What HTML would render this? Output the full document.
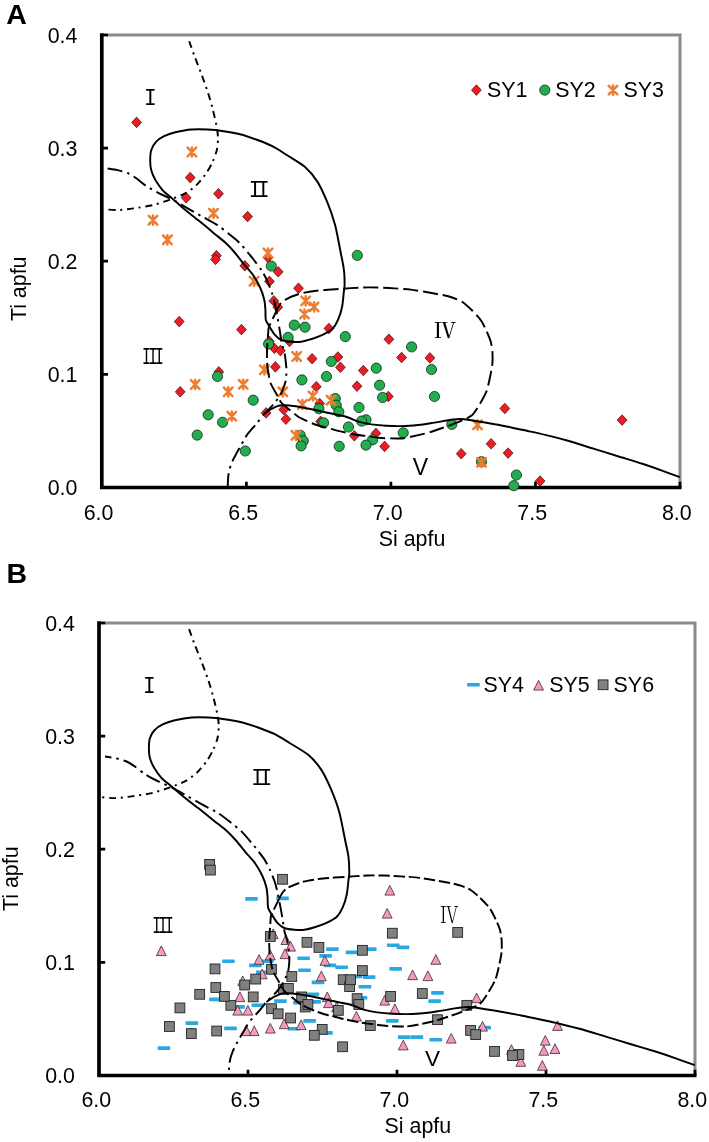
<!DOCTYPE html>
<html><head><meta charset="utf-8"><title>Ti vs Si apfu</title>
<style>html,body{margin:0;padding:0;background:#fff}svg{display:block}text{font-family:"Liberation Sans",sans-serif;fill:#000}.t{font-size:21.4px}.b{font-weight:bold;font-size:28.5px}.m{font-family:"Liberation Mono",monospace}.r{font-family:"Noto Serif CJK SC","Liberation Serif",serif}.c{fill:none;stroke:#000;stroke-width:1.95;stroke-linejoin:round}.rd{fill:#ed1c24;stroke:#3a0a0a;stroke-width:.7}.gr{fill:#22ad4e;stroke:#0c2a14;stroke-width:.8}.or{fill:none;stroke:#ed7d31;stroke-width:2.5;stroke-linecap:round}.gy{fill:#808080;stroke:#222;stroke-width:.9}.pk{fill:#f49ac1;stroke:#3a2a30;stroke-width:.8;stroke-linejoin:miter}.bl{fill:#29a9e0}</style></head><body>
<svg width="709" height="1142" viewBox="0 0 709 1142">
<rect width="709" height="1142" fill="#fff"/>
<path d="M101.8 35.0H680.0V487.5" fill="none" stroke="#8a8a8a" stroke-width="3"/>
<path d="M101.8 33.3V487.5H681.5" fill="none" stroke="#000" stroke-width="3.7" stroke-linejoin="miter"/>
<path d="M101.8 374.4h6.2M246.4 487.5v-5.8M101.8 261.2h6.2M390.9 487.5v-5.8M101.8 148.1h6.2M535.5 487.5v-5.8M101.8 35.0h6.2M680.0 487.5v-5.8" fill="none" stroke="#000" stroke-width="2.7"/>
<g><path class="rd" d="M136.6 117.1l4.9 5.3l-4.9 5.3l-4.9 -5.3z"/><path class="rd" d="M190.2 172.3l4.9 5.3l-4.9 5.3l-4.9 -5.3z"/><path class="rd" d="M186.2 192.5l4.9 5.3l-4.9 5.3l-4.9 -5.3z"/><path class="rd" d="M218.5 188.4l4.9 5.3l-4.9 5.3l-4.9 -5.3z"/><path class="rd" d="M247.6 211.3l4.9 5.3l-4.9 5.3l-4.9 -5.3z"/><path class="rd" d="M216.4 250.4l4.9 5.3l-4.9 5.3l-4.9 -5.3z"/><path class="rd" d="M215.5 254.1l4.9 5.3l-4.9 5.3l-4.9 -5.3z"/><path class="rd" d="M244.8 260.5l4.9 5.3l-4.9 5.3l-4.9 -5.3z"/><path class="rd" d="M268.0 252.1l4.9 5.3l-4.9 5.3l-4.9 -5.3z"/><path class="rd" d="M278.2 266.5l4.9 5.3l-4.9 5.3l-4.9 -5.3z"/><path class="rd" d="M269.4 276.1l4.9 5.3l-4.9 5.3l-4.9 -5.3z"/><path class="rd" d="M298.5 282.9l4.9 5.3l-4.9 5.3l-4.9 -5.3z"/><path class="rd" d="M273.8 295.6l4.9 5.3l-4.9 5.3l-4.9 -5.3z"/><path class="rd" d="M277.8 301.9l4.9 5.3l-4.9 5.3l-4.9 -5.3z"/><path class="rd" d="M241.4 324.3l4.9 5.3l-4.9 5.3l-4.9 -5.3z"/><path class="rd" d="M328.9 323.2l4.9 5.3l-4.9 5.3l-4.9 -5.3z"/><path class="rd" d="M269.3 336.0l4.9 5.3l-4.9 5.3l-4.9 -5.3z"/><path class="rd" d="M274.3 343.0l4.9 5.3l-4.9 5.3l-4.9 -5.3z"/><path class="rd" d="M280.4 345.3l4.9 5.3l-4.9 5.3l-4.9 -5.3z"/><path class="rd" d="M289.6 336.2l4.9 5.3l-4.9 5.3l-4.9 -5.3z"/><path class="rd" d="M312.1 353.4l4.9 5.3l-4.9 5.3l-4.9 -5.3z"/><path class="rd" d="M337.9 351.7l4.9 5.3l-4.9 5.3l-4.9 -5.3z"/><path class="rd" d="M179.2 316.3l4.9 5.3l-4.9 5.3l-4.9 -5.3z"/><path class="rd" d="M180.2 386.5l4.9 5.3l-4.9 5.3l-4.9 -5.3z"/><path class="rd" d="M218.8 366.6l4.9 5.3l-4.9 5.3l-4.9 -5.3z"/><path class="rd" d="M275.4 361.6l4.9 5.3l-4.9 5.3l-4.9 -5.3z"/><path class="rd" d="M340.4 362.0l4.9 5.3l-4.9 5.3l-4.9 -5.3z"/><path class="rd" d="M316.3 381.4l4.9 5.3l-4.9 5.3l-4.9 -5.3z"/><path class="rd" d="M266.1 407.6l4.9 5.3l-4.9 5.3l-4.9 -5.3z"/><path class="rd" d="M283.8 404.3l4.9 5.3l-4.9 5.3l-4.9 -5.3z"/><path class="rd" d="M285.9 413.9l4.9 5.3l-4.9 5.3l-4.9 -5.3z"/><path class="rd" d="M319.7 398.3l4.9 5.3l-4.9 5.3l-4.9 -5.3z"/><path class="rd" d="M320.6 416.1l4.9 5.3l-4.9 5.3l-4.9 -5.3z"/><path class="rd" d="M388.9 333.9l4.9 5.3l-4.9 5.3l-4.9 -5.3z"/><path class="rd" d="M401.6 352.2l4.9 5.3l-4.9 5.3l-4.9 -5.3z"/><path class="rd" d="M429.9 352.6l4.9 5.3l-4.9 5.3l-4.9 -5.3z"/><path class="rd" d="M363.3 365.2l4.9 5.3l-4.9 5.3l-4.9 -5.3z"/><path class="rd" d="M357.0 380.9l4.9 5.3l-4.9 5.3l-4.9 -5.3z"/><path class="rd" d="M388.3 391.2l4.9 5.3l-4.9 5.3l-4.9 -5.3z"/><path class="rd" d="M504.8 403.2l4.9 5.3l-4.9 5.3l-4.9 -5.3z"/><path class="rd" d="M354.3 430.5l4.9 5.3l-4.9 5.3l-4.9 -5.3z"/><path class="rd" d="M375.9 428.1l4.9 5.3l-4.9 5.3l-4.9 -5.3z"/><path class="rd" d="M384.6 441.1l4.9 5.3l-4.9 5.3l-4.9 -5.3z"/><path class="rd" d="M461.2 448.4l4.9 5.3l-4.9 5.3l-4.9 -5.3z"/><path class="rd" d="M491.1 438.5l4.9 5.3l-4.9 5.3l-4.9 -5.3z"/><path class="rd" d="M508.1 447.8l4.9 5.3l-4.9 5.3l-4.9 -5.3z"/><path class="rd" d="M540.1 475.7l4.9 5.3l-4.9 5.3l-4.9 -5.3z"/><path class="rd" d="M622.1 414.8l4.9 5.3l-4.9 5.3l-4.9 -5.3z"/></g>
<g><circle class="gr" cx="357.3" cy="255.4" r="5.1"/><circle class="gr" cx="271.3" cy="266.0" r="5.1"/><circle class="gr" cx="294.3" cy="325.1" r="5.1"/><circle class="gr" cx="305.0" cy="327.2" r="5.1"/><circle class="gr" cx="288.1" cy="337.4" r="5.1"/><circle class="gr" cx="268.6" cy="344.0" r="5.1"/><circle class="gr" cx="345.3" cy="336.6" r="5.1"/><circle class="gr" cx="331.3" cy="361.5" r="5.1"/><circle class="gr" cx="326.5" cy="376.5" r="5.1"/><circle class="gr" cx="301.9" cy="379.9" r="5.1"/><circle class="gr" cx="253.2" cy="400.2" r="5.1"/><circle class="gr" cx="335.3" cy="398.6" r="5.1"/><circle class="gr" cx="318.9" cy="408.7" r="5.1"/><circle class="gr" cx="336.3" cy="405.3" r="5.1"/><circle class="gr" cx="338.8" cy="411.8" r="5.1"/><circle class="gr" cx="323.6" cy="422.8" r="5.1"/><circle class="gr" cx="348.5" cy="427.0" r="5.1"/><circle class="gr" cx="300.2" cy="435.3" r="5.1"/><circle class="gr" cx="303.3" cy="440.9" r="5.1"/><circle class="gr" cx="301.1" cy="445.9" r="5.1"/><circle class="gr" cx="339.2" cy="446.3" r="5.1"/><circle class="gr" cx="245.3" cy="451.0" r="5.1"/><circle class="gr" cx="217.5" cy="376.5" r="5.1"/><circle class="gr" cx="208.2" cy="414.8" r="5.1"/><circle class="gr" cx="222.6" cy="422.3" r="5.1"/><circle class="gr" cx="197.2" cy="435.1" r="5.1"/><circle class="gr" cx="411.6" cy="346.9" r="5.1"/><circle class="gr" cx="376.3" cy="368.2" r="5.1"/><circle class="gr" cx="431.5" cy="369.5" r="5.1"/><circle class="gr" cx="379.6" cy="385.2" r="5.1"/><circle class="gr" cx="382.6" cy="397.5" r="5.1"/><circle class="gr" cx="434.5" cy="396.5" r="5.1"/><circle class="gr" cx="359.0" cy="407.5" r="5.1"/><circle class="gr" cx="366.0" cy="419.8" r="5.1"/><circle class="gr" cx="361.6" cy="421.1" r="5.1"/><circle class="gr" cx="403.2" cy="432.8" r="5.1"/><circle class="gr" cx="372.6" cy="439.8" r="5.1"/><circle class="gr" cx="366.0" cy="445.1" r="5.1"/><circle class="gr" cx="451.8" cy="424.4" r="5.1"/><circle class="gr" cx="516.4" cy="475.0" r="5.1"/><circle class="gr" cx="513.8" cy="485.7" r="5.1"/><circle class="gr" cx="481.5" cy="461.7" r="5.1"/></g>
<g><path class="or" d="M187.6 147.7l8.6 8.6M196.2 147.7l-8.6 8.6M191.9 147.4v9.2"/><path class="or" d="M148.7 215.9l8.6 8.6M157.3 215.9l-8.6 8.6M153.0 215.6v9.2"/><path class="or" d="M163.1 235.5l8.6 8.6M171.7 235.5l-8.6 8.6M167.4 235.2v9.2"/><path class="or" d="M209.2 209.0l8.6 8.6M217.8 209.0l-8.6 8.6M213.5 208.7v9.2"/><path class="or" d="M263.7 248.7l8.6 8.6M272.3 248.7l-8.6 8.6M268.0 248.4v9.2"/><path class="or" d="M249.8 276.9l8.6 8.6M258.4 276.9l-8.6 8.6M254.1 276.6v9.2"/><path class="or" d="M301.4 296.6l8.6 8.6M310.0 296.6l-8.6 8.6M305.7 296.3v9.2"/><path class="or" d="M309.8 302.6l8.6 8.6M318.4 302.6l-8.6 8.6M314.1 302.3v9.2"/><path class="or" d="M300.2 309.8l8.6 8.6M308.8 309.8l-8.6 8.6M304.5 309.5v9.2"/><path class="or" d="M292.4 352.2l8.6 8.6M301.0 352.2l-8.6 8.6M296.7 351.9v9.2"/><path class="or" d="M260.1 365.5l8.6 8.6M268.7 365.5l-8.6 8.6M264.4 365.2v9.2"/><path class="or" d="M238.9 380.0l8.6 8.6M247.5 380.0l-8.6 8.6M243.2 379.7v9.2"/><path class="or" d="M223.9 387.5l8.6 8.6M232.5 387.5l-8.6 8.6M228.2 387.2v9.2"/><path class="or" d="M278.5 387.5l8.6 8.6M287.1 387.5l-8.6 8.6M282.8 387.2v9.2"/><path class="or" d="M308.6 391.7l8.6 8.6M317.2 391.7l-8.6 8.6M312.9 391.4v9.2"/><path class="or" d="M298.1 400.2l8.6 8.6M306.7 400.2l-8.6 8.6M302.4 399.9v9.2"/><path class="or" d="M326.7 395.9l8.6 8.6M335.3 395.9l-8.6 8.6M331.0 395.6v9.2"/><path class="or" d="M227.5 411.9l8.6 8.6M236.1 411.9l-8.6 8.6M231.8 411.6v9.2"/><path class="or" d="M291.7 431.0l8.6 8.6M300.3 431.0l-8.6 8.6M296.0 430.7v9.2"/><path class="or" d="M190.9 380.2l8.6 8.6M199.5 380.2l-8.6 8.6M195.2 379.9v9.2"/><path class="or" d="M473.2 420.5l8.6 8.6M481.8 420.5l-8.6 8.6M477.5 420.2v9.2"/><path class="or" d="M477.2 458.1l8.6 8.6M485.8 458.1l-8.6 8.6M481.5 457.8v9.2"/></g>
<path class="c" stroke-dasharray="7 4.8 2 4.7" d="M189.2 41.2C189.9 43.2 193.3 53.0 194.8 57.0C196.3 61.0 199.6 69.2 201.2 73.6C202.9 78.0 206.3 87.5 207.7 91.9C209.2 96.3 211.5 104.2 212.6 108.6C213.7 113.0 216.1 123.2 216.8 126.9C217.4 130.6 218.0 135.6 218.0 138.5C218.0 141.4 217.4 147.3 216.8 150.2C216.1 153.1 213.9 158.9 212.6 161.8C211.3 164.7 208.1 170.6 206.1 173.5C204.1 176.4 199.0 182.6 196.4 185.1C193.8 187.6 188.4 191.6 185.1 193.4C181.9 195.2 174.6 197.9 170.6 199.4C166.5 200.9 157.5 204.0 152.8 205.1C148.2 206.2 137.9 207.8 133.4 208.4C129.0 209.0 121.0 210.0 117.3 210.1C113.6 210.2 105.4 209.3 103.7 209.2"/>
<path class="c" stroke-dasharray="15 5 2.5 5" d="M107.6 168.5C108.8 168.7 114.7 169.5 117.3 170.1C119.9 170.7 126.2 172.4 128.6 173.5C131.0 174.6 134.4 176.9 136.6 178.5C138.8 180.1 143.5 184.2 146.3 186.1C149.2 188.0 156.0 191.7 159.2 193.4C162.5 195.1 169.0 197.7 172.2 199.4C175.5 201.1 181.5 204.7 185.1 206.8C188.8 208.9 197.2 213.8 201.2 216.1C205.3 218.4 213.8 222.7 217.4 225.1C221.1 227.5 227.5 232.8 230.3 235.1C233.2 237.4 237.6 240.9 240.0 243.4C242.5 245.9 248.2 252.9 249.9 255.0C251.7 257.1 252.8 258.6 254.3 260.5C255.8 262.4 260.1 268.0 261.8 270.6C263.4 273.2 266.2 278.6 267.5 281.6C268.8 284.6 271.5 291.2 272.4 294.3C273.4 297.4 274.7 303.1 275.4 306.2C276.0 309.3 277.2 315.8 277.8 318.9C278.3 322.0 279.3 327.6 279.8 330.7C280.3 333.8 281.2 340.5 281.8 343.4C282.4 346.3 284.1 350.8 284.7 353.8C285.2 356.8 286.1 364.8 286.3 367.4C286.5 370.0 286.4 373.2 286.3 375.0C286.2 376.8 286.1 379.6 285.5 381.8C284.9 384.0 282.9 390.0 281.5 392.8C280.0 395.5 276.1 401.3 274.0 403.8C271.9 406.3 267.0 410.8 265.0 413.1C262.9 415.4 259.5 420.1 257.6 422.4C255.7 424.7 251.0 429.8 249.5 431.7C247.9 433.6 246.2 436.1 245.3 437.6C244.3 439.1 243.1 441.6 242.0 443.6C240.9 445.6 237.3 451.8 236.3 453.7C235.2 455.6 234.1 457.8 233.4 459.1C232.8 460.4 231.8 462.6 231.3 464.0C230.8 465.4 229.8 468.4 229.4 470.0C229.0 471.6 228.4 475.0 228.2 477.0C228.0 479.0 227.8 484.9 227.7 486.0"/>
<path class="c" d="M150.2 160.2C150.2 157.7 150.5 152.5 151.2 150.2C151.9 147.9 154.4 143.5 156.0 141.8C157.6 140.0 161.7 137.4 164.1 136.2C166.5 135.0 172.0 133.0 175.4 132.2C178.9 131.4 187.5 129.8 191.5 129.5C195.6 129.2 203.7 129.3 207.7 129.5C211.8 129.7 219.8 130.6 223.8 131.2C227.9 131.8 236.0 133.2 240.0 134.2C244.1 135.2 252.1 138.0 256.1 139.5C260.2 141.0 268.5 144.3 272.3 146.2C276.2 148.1 282.7 152.4 286.7 155.0C290.7 157.6 300.6 163.3 304.5 166.6C308.3 169.9 314.5 177.2 317.4 181.6C320.2 186.0 324.8 196.2 327.1 201.6C329.3 207.0 333.4 218.6 335.1 224.9C336.8 231.2 339.5 246.5 340.6 252.0C341.6 257.5 343.3 264.8 343.8 268.9C344.4 273.0 344.6 281.9 344.6 284.8C344.6 287.7 344.2 289.3 343.8 292.0C343.5 294.7 342.9 302.7 342.2 306.2C341.5 309.7 339.4 316.9 338.1 319.7C336.9 322.6 334.3 327.1 332.3 329.0C330.4 330.9 325.2 333.6 322.5 334.9C319.8 336.2 313.6 338.4 311.0 339.2C308.3 340.1 303.6 341.4 301.2 341.7C298.7 342.0 293.7 341.9 291.3 341.7C288.8 341.5 283.5 340.9 281.5 340.0C279.4 339.1 276.3 336.5 274.9 334.9C273.4 333.3 271.1 329.2 269.9 327.3C268.8 325.4 266.4 321.9 265.8 319.7C265.3 317.5 265.6 312.0 265.4 309.5C265.2 307.0 264.9 302.1 264.2 299.4C263.5 296.6 261.5 290.5 260.1 287.5C258.8 284.5 255.6 278.7 253.5 275.7C251.5 272.7 246.0 266.7 243.6 263.8C241.3 260.9 237.0 255.2 234.7 252.5C232.4 249.8 227.6 244.7 225.0 242.3C222.4 239.9 217.5 236.2 214.1 233.4C210.8 230.6 201.9 223.2 198.0 220.1C194.2 217.0 186.7 211.1 183.5 208.4C180.3 205.7 174.9 200.7 172.2 198.4C169.6 196.1 164.6 192.4 162.5 190.1C160.4 187.8 156.9 182.6 155.4 180.1C154.0 177.6 151.8 172.6 151.2 170.1C150.5 167.6 150.2 162.7 150.2 160.2Z"/>
<path class="c" stroke-dasharray="15 5" stroke-dashoffset="6" d="M276.5 310.8C277.0 309.9 279.2 305.4 280.3 304.0C281.4 302.6 282.6 301.1 285.1 299.8C287.5 298.5 295.4 295.0 299.6 293.8C303.9 292.6 313.8 291.1 319.0 290.5C324.3 289.9 336.3 289.2 341.6 288.8C347.0 288.4 357.1 287.7 361.7 287.5C366.3 287.3 374.1 287.4 378.2 287.5C382.3 287.6 390.5 288.1 394.6 288.4C398.7 288.7 406.9 289.1 411.0 289.6C415.1 290.1 423.5 291.6 427.4 292.3C431.3 293.0 439.2 294.4 442.3 295.0C445.4 295.6 449.8 296.6 452.2 297.5C454.7 298.4 459.5 300.2 462.0 301.8C464.5 303.4 469.5 307.9 471.9 310.2C474.3 312.5 479.1 317.8 480.9 320.4C482.8 323.0 485.4 328.8 486.7 331.4C487.9 334.0 490.0 339.1 490.7 341.6C491.4 344.1 492.2 349.0 492.4 351.7C492.6 354.5 492.6 360.8 492.4 363.6C492.2 366.4 491.4 370.4 490.7 373.8C490.0 377.2 488.0 387.1 486.7 390.8C485.3 394.5 481.9 400.4 480.1 403.5C478.2 406.6 474.4 413.1 471.9 415.3C469.4 417.5 463.3 419.9 460.4 421.2C457.5 422.5 452.4 424.4 448.7 425.8C445.0 427.1 435.4 430.6 430.7 432.0C426.0 433.4 414.9 436.0 411.0 436.8C407.1 437.6 403.2 438.4 399.5 438.5C395.8 438.6 385.7 438.3 381.4 438.0C377.1 437.7 368.5 436.4 365.0 435.9C361.5 435.4 356.6 434.8 353.5 434.2C350.5 433.6 343.6 432.1 340.6 431.4C337.5 430.7 331.2 428.8 329.0 428.3C326.8 427.7 325.4 427.6 323.3 427.0C321.1 426.4 314.0 424.0 311.8 423.2C309.7 422.4 307.9 421.5 306.1 420.7C304.4 419.9 299.8 417.8 297.9 416.5C295.9 415.2 292.5 412.3 290.5 410.6C288.4 408.9 283.0 404.6 281.5 402.9C279.9 401.2 279.3 399.0 278.2 397.0C277.0 395.0 273.5 388.9 272.4 386.9C271.4 384.9 270.5 383.3 269.9 380.9C269.3 378.5 267.9 370.1 267.5 367.4C267.1 364.6 267.1 361.2 267.0 358.9C267.0 356.6 267.0 350.7 267.0 348.8C267.1 346.9 267.3 345.5 267.5 343.4C267.7 341.2 268.1 333.7 268.3 331.6C268.5 329.5 268.1 329.1 269.1 326.5C270.2 323.9 275.6 312.8 276.5 310.8C277.4 308.8 276.0 311.6 276.5 310.8Z"/>
<path class="c" d="M264.2 413.9C265.1 413.3 269.6 409.9 271.6 408.9C273.5 407.8 277.6 405.9 279.8 405.5C282.1 405.1 287.0 405.3 289.6 405.5C292.3 405.7 298.1 406.7 301.2 407.2C304.2 407.7 311.0 409.0 314.3 409.7C317.5 410.4 323.6 411.9 327.5 412.8C331.3 413.6 341.4 415.4 345.3 416.5C349.2 417.6 355.1 420.6 358.4 421.6C361.7 422.6 368.1 423.9 371.6 424.4C375.1 424.9 382.7 425.6 386.3 425.8C390.0 426.0 397.4 426.2 401.1 426.1C404.8 426.0 412.2 425.7 415.9 425.3C419.6 424.9 427.2 423.8 430.7 423.2C434.2 422.7 441.1 421.4 443.9 420.9C446.7 420.4 450.9 419.7 453.0 419.5C455.1 419.3 458.7 418.9 460.7 419.0C462.8 419.1 467.3 419.7 469.5 420.0C471.7 420.3 475.2 421.0 478.4 421.5C481.6 422.0 490.8 423.5 494.9 424.3C499.0 425.0 507.2 426.7 511.3 427.5C515.4 428.3 523.5 430.1 527.7 431.0C531.9 431.9 540.0 433.6 545.2 434.9C550.3 436.1 562.9 439.3 568.9 441.0C574.9 442.7 587.2 446.7 593.4 448.6C599.5 450.5 611.8 454.3 617.9 456.2C624.0 458.1 636.9 462.0 642.4 463.8C647.9 465.6 657.3 468.9 662.0 470.6C666.6 472.3 677.6 476.4 679.8 477.2"/>
<path d="M99.0 623.0H695.0V1075.5" fill="none" stroke="#8a8a8a" stroke-width="3"/>
<path d="M99.0 621.3V1075.5H696.5" fill="none" stroke="#000" stroke-width="3.7" stroke-linejoin="miter"/>
<path d="M99.0 962.4h6.2M248.0 1075.5v-5.8M99.0 849.2h6.2M397.0 1075.5v-5.8M99.0 736.1h6.2M546.0 1075.5v-5.8M99.0 623.0h6.2M695.0 1075.5v-5.8" fill="none" stroke="#000" stroke-width="2.7"/>
<g><rect class="bl" x="245.2" y="897.0" width="12.6" height="3.7" rx=".6"/><rect class="bl" x="276.2" y="896.5" width="12.6" height="3.7" rx=".6"/><rect class="bl" x="326.1" y="947.2" width="12.6" height="3.7" rx=".6"/><rect class="bl" x="297.3" y="956.4" width="12.6" height="3.7" rx=".6"/><rect class="bl" x="319.3" y="954.0" width="12.6" height="3.7" rx=".6"/><rect class="bl" x="260.9" y="959.4" width="12.6" height="3.7" rx=".6"/><rect class="bl" x="249.1" y="963.6" width="12.6" height="3.7" rx=".6"/><rect class="bl" x="323.6" y="963.6" width="12.6" height="3.7" rx=".6"/><rect class="bl" x="335.4" y="965.4" width="12.6" height="3.7" rx=".6"/><rect class="bl" x="298.2" y="968.4" width="12.6" height="3.7" rx=".6"/><rect class="bl" x="255.9" y="970.4" width="12.6" height="3.7" rx=".6"/><rect class="bl" x="311.7" y="980.6" width="12.6" height="3.7" rx=".6"/><rect class="bl" x="306.6" y="992.4" width="12.6" height="3.7" rx=".6"/><rect class="bl" x="274.1" y="999.2" width="12.6" height="3.7" rx=".6"/><rect class="bl" x="251.6" y="1003.4" width="12.6" height="3.7" rx=".6"/><rect class="bl" x="293.1" y="1000.9" width="12.6" height="3.7" rx=".6"/><rect class="bl" x="308.3" y="1000.0" width="12.6" height="3.7" rx=".6"/><rect class="bl" x="303.3" y="1019.0" width="12.6" height="3.7" rx=".6"/><rect class="bl" x="287.7" y="1026.9" width="12.6" height="3.7" rx=".6"/><rect class="bl" x="224.2" y="1026.6" width="12.6" height="3.7" rx=".6"/><rect class="bl" x="320.2" y="1031.1" width="12.6" height="3.7" rx=".6"/><rect class="bl" x="222.2" y="959.4" width="12.6" height="3.7" rx=".6"/><rect class="bl" x="232.2" y="1005.1" width="12.6" height="3.7" rx=".6"/><rect class="bl" x="209.2" y="997.5" width="12.6" height="3.7" rx=".6"/><rect class="bl" x="185.5" y="1021.2" width="12.6" height="3.7" rx=".6"/><rect class="bl" x="157.6" y="1046.2" width="12.6" height="3.7" rx=".6"/><rect class="bl" x="386.9" y="943.4" width="12.6" height="3.7" rx=".6"/><rect class="bl" x="396.7" y="945.5" width="12.6" height="3.7" rx=".6"/><rect class="bl" x="364.0" y="947.2" width="12.6" height="3.7" rx=".6"/><rect class="bl" x="345.7" y="950.5" width="12.6" height="3.7" rx=".6"/><rect class="bl" x="389.4" y="967.0" width="12.6" height="3.7" rx=".6"/><rect class="bl" x="362.8" y="975.2" width="12.6" height="3.7" rx=".6"/><rect class="bl" x="349.7" y="974.6" width="12.6" height="3.7" rx=".6"/><rect class="bl" x="358.6" y="984.9" width="12.6" height="3.7" rx=".6"/><rect class="bl" x="431.2" y="991.1" width="12.6" height="3.7" rx=".6"/><rect class="bl" x="428.3" y="999.2" width="12.6" height="3.7" rx=".6"/><rect class="bl" x="386.0" y="1019.0" width="12.6" height="3.7" rx=".6"/><rect class="bl" x="397.9" y="1035.2" width="12.6" height="3.7" rx=".6"/><rect class="bl" x="410.6" y="1035.2" width="12.6" height="3.7" rx=".6"/><rect class="bl" x="429.5" y="1037.9" width="12.6" height="3.7" rx=".6"/><rect class="bl" x="354.7" y="995.9" width="12.6" height="3.7" rx=".6"/><rect class="bl" x="478.4" y="1025.7" width="12.6" height="3.7" rx=".6"/></g>
<g><path class="pk" d="M273.2 929.0l4.9 9.7h-9.8z"/><path class="pk" d="M285.9 934.8l4.9 9.7h-9.8z"/><path class="pk" d="M290.6 941.4l4.9 9.7h-9.8z"/><path class="pk" d="M285.0 948.9l4.9 9.7h-9.8z"/><path class="pk" d="M270.3 950.2l4.9 9.7h-9.8z"/><path class="pk" d="M259.1 954.6l4.9 9.7h-9.8z"/><path class="pk" d="M262.2 969.1l4.9 9.7h-9.8z"/><path class="pk" d="M242.7 975.9l4.9 9.7h-9.8z"/><path class="pk" d="M239.9 991.9l4.9 9.7h-9.8z"/><path class="pk" d="M237.7 1005.4l4.9 9.7h-9.8z"/><path class="pk" d="M247.9 1005.4l4.9 9.7h-9.8z"/><path class="pk" d="M284.2 1019.0l4.9 9.7h-9.8z"/><path class="pk" d="M270.3 1023.4l4.9 9.7h-9.8z"/><path class="pk" d="M301.1 1019.9l4.9 9.7h-9.8z"/><path class="pk" d="M246.5 1025.9l4.9 9.7h-9.8z"/><path class="pk" d="M254.2 1025.9l4.9 9.7h-9.8z"/><path class="pk" d="M324.9 955.6l4.9 9.7h-9.8z"/><path class="pk" d="M321.4 971.1l4.9 9.7h-9.8z"/><path class="pk" d="M327.3 992.0l4.9 9.7h-9.8z"/><path class="pk" d="M328.5 997.9l4.9 9.7h-9.8z"/><path class="pk" d="M336.6 1002.1l4.9 9.7h-9.8z"/><path class="pk" d="M161.3 945.9l4.9 9.7h-9.8z"/><path class="pk" d="M389.8 885.4l4.9 9.7h-9.8z"/><path class="pk" d="M387.2 908.4l4.9 9.7h-9.8z"/><path class="pk" d="M435.8 954.6l4.9 9.7h-9.8z"/><path class="pk" d="M412.6 970.0l4.9 9.7h-9.8z"/><path class="pk" d="M427.9 970.9l4.9 9.7h-9.8z"/><path class="pk" d="M384.7 995.4l4.9 9.7h-9.8z"/><path class="pk" d="M394.9 1003.9l4.9 9.7h-9.8z"/><path class="pk" d="M356.4 1011.4l4.9 9.7h-9.8z"/><path class="pk" d="M451.2 1033.4l4.9 9.7h-9.8z"/><path class="pk" d="M403.3 1040.2l4.9 9.7h-9.8z"/><path class="pk" d="M476.6 993.0l4.9 9.7h-9.8z"/><path class="pk" d="M482.5 1021.4l4.9 9.7h-9.8z"/><path class="pk" d="M557.5 1020.7l4.9 9.7h-9.8z"/><path class="pk" d="M545.3 1035.5l4.9 9.7h-9.8z"/><path class="pk" d="M543.8 1045.5l4.9 9.7h-9.8z"/><path class="pk" d="M555.0 1043.8l4.9 9.7h-9.8z"/><path class="pk" d="M542.3 1060.6l4.9 9.7h-9.8z"/><path class="pk" d="M511.4 1044.7l4.9 9.7h-9.8z"/><path class="pk" d="M520.8 1056.6l4.9 9.7h-9.8z"/></g>
<g><rect class="gy" x="277.6" y="874.4" width="9.8" height="9.8"/><rect class="gy" x="265.4" y="931.6" width="9.8" height="9.8"/><rect class="gy" x="302.1" y="937.4" width="9.8" height="9.8"/><rect class="gy" x="314.0" y="942.5" width="9.8" height="9.8"/><rect class="gy" x="266.6" y="964.4" width="9.8" height="9.8"/><rect class="gy" x="250.8" y="974.2" width="9.8" height="9.8"/><rect class="gy" x="239.8" y="980.1" width="9.8" height="9.8"/><rect class="gy" x="286.9" y="971.6" width="9.8" height="9.8"/><rect class="gy" x="278.4" y="984.3" width="9.8" height="9.8"/><rect class="gy" x="283.5" y="983.5" width="9.8" height="9.8"/><rect class="gy" x="248.3" y="992.0" width="9.8" height="9.8"/><rect class="gy" x="296.7" y="992.0" width="9.8" height="9.8"/><rect class="gy" x="300.4" y="1002.1" width="9.8" height="9.8"/><rect class="gy" x="303.0" y="999.6" width="9.8" height="9.8"/><rect class="gy" x="266.6" y="1003.8" width="9.8" height="9.8"/><rect class="gy" x="273.3" y="1008.9" width="9.8" height="9.8"/><rect class="gy" x="285.7" y="1013.1" width="9.8" height="9.8"/><rect class="gy" x="333.4" y="1005.5" width="9.8" height="9.8"/><rect class="gy" x="317.3" y="1024.5" width="9.8" height="9.8"/><rect class="gy" x="309.4" y="1030.4" width="9.8" height="9.8"/><rect class="gy" x="338.3" y="974.8" width="9.8" height="9.8"/><rect class="gy" x="344.7" y="981.7" width="9.8" height="9.8"/><rect class="gy" x="345.7" y="974.8" width="9.8" height="9.8"/><rect class="gy" x="337.7" y="1041.9" width="9.8" height="9.8"/><rect class="gy" x="225.9" y="1000.4" width="9.8" height="9.8"/><rect class="gy" x="204.7" y="859.5" width="9.8" height="9.8"/><rect class="gy" x="205.5" y="865.2" width="9.8" height="9.8"/><rect class="gy" x="210.1" y="964.0" width="9.8" height="9.8"/><rect class="gy" x="210.9" y="982.6" width="9.8" height="9.8"/><rect class="gy" x="194.8" y="989.4" width="9.8" height="9.8"/><rect class="gy" x="219.5" y="991.5" width="9.8" height="9.8"/><rect class="gy" x="175.0" y="1003.0" width="9.8" height="9.8"/><rect class="gy" x="164.5" y="1021.6" width="9.8" height="9.8"/><rect class="gy" x="186.4" y="1028.7" width="9.8" height="9.8"/><rect class="gy" x="211.8" y="1026.1" width="9.8" height="9.8"/><rect class="gy" x="387.4" y="928.3" width="9.8" height="9.8"/><rect class="gy" x="452.8" y="927.5" width="9.8" height="9.8"/><rect class="gy" x="357.5" y="945.4" width="9.8" height="9.8"/><rect class="gy" x="357.5" y="965.7" width="9.8" height="9.8"/><rect class="gy" x="385.7" y="991.5" width="9.8" height="9.8"/><rect class="gy" x="417.4" y="988.6" width="9.8" height="9.8"/><rect class="gy" x="352.2" y="993.7" width="9.8" height="9.8"/><rect class="gy" x="353.9" y="999.6" width="9.8" height="9.8"/><rect class="gy" x="432.6" y="1014.8" width="9.8" height="9.8"/><rect class="gy" x="365.4" y="1020.7" width="9.8" height="9.8"/><rect class="gy" x="461.9" y="1000.4" width="9.8" height="9.8"/><rect class="gy" x="465.7" y="1025.5" width="9.8" height="9.8"/><rect class="gy" x="470.8" y="1029.7" width="9.8" height="9.8"/><rect class="gy" x="489.6" y="1046.5" width="9.8" height="9.8"/><rect class="gy" x="514.0" y="1049.6" width="9.8" height="9.8"/><rect class="gy" x="507.6" y="1050.7" width="9.8" height="9.8"/></g>
<path class="c" stroke-dasharray="7 4.8 2 4.7" d="M189.1 629.2C189.8 631.2 193.3 641.0 194.9 645.0C196.5 649.0 199.8 657.2 201.5 661.6C203.2 666.0 206.7 675.5 208.2 679.9C209.7 684.3 212.0 692.2 213.2 696.6C214.4 701.0 216.8 711.2 217.5 714.9C218.2 718.6 218.8 723.6 218.8 726.5C218.8 729.4 218.2 735.3 217.5 738.2C216.8 741.1 214.6 746.9 213.2 749.8C211.8 752.7 208.6 758.6 206.5 761.5C204.4 764.4 199.2 770.6 196.5 773.1C193.8 775.6 188.2 779.6 184.9 781.4C181.6 783.2 174.1 785.9 169.9 787.4C165.7 788.9 156.4 792.0 151.6 793.1C146.8 794.2 136.2 795.8 131.6 796.4C127.0 797.0 118.8 798.0 115.0 798.1C111.2 798.2 102.8 797.3 101.0 797.2"/>
<path class="c" stroke-dasharray="15 5 2.5 5" stroke-dashoffset="8.5" d="M105.0 756.5C106.2 756.7 112.3 757.5 115.0 758.1C117.7 758.7 124.1 760.5 126.6 761.5C129.1 762.5 132.6 764.9 134.9 766.5C137.2 768.1 142.0 772.2 144.9 774.1C147.8 776.0 154.9 779.7 158.2 781.4C161.5 783.1 168.3 785.7 171.6 787.4C174.9 789.1 181.2 792.7 184.9 794.8C188.6 796.9 197.3 801.8 201.5 804.1C205.7 806.4 214.4 810.7 218.2 813.1C221.9 815.5 228.6 820.8 231.5 823.1C234.4 825.4 239.0 828.9 241.5 831.4C244.0 833.9 249.9 840.9 251.7 843.0C253.5 845.1 254.7 846.5 256.2 848.5C257.7 850.5 262.2 856.0 263.9 858.6C265.6 861.2 268.4 866.6 269.8 869.6C271.2 872.6 273.9 879.2 274.9 882.3C275.9 885.4 277.2 891.1 277.9 894.2C278.6 897.3 279.8 903.8 280.4 906.9C281.0 910.0 282.0 915.6 282.5 918.7C283.0 921.8 283.9 928.5 284.5 931.4C285.1 934.3 286.9 938.8 287.5 941.8C288.1 944.8 289.0 952.8 289.2 955.4C289.4 958.0 289.3 961.2 289.2 963.0C289.1 964.8 289.0 967.6 288.4 969.8C287.8 972.0 285.7 978.0 284.2 980.8C282.7 983.5 278.6 989.3 276.5 991.8C274.4 994.3 269.3 998.8 267.2 1001.1C265.1 1003.4 261.6 1008.1 259.6 1010.4C257.6 1012.7 252.8 1017.8 251.2 1019.7C249.6 1021.6 247.9 1024.1 246.9 1025.6C245.9 1027.1 244.7 1029.6 243.5 1031.6C242.3 1033.6 238.7 1039.8 237.6 1041.7C236.5 1043.6 235.3 1045.8 234.7 1047.1C234.1 1048.4 233.0 1050.6 232.5 1052.0C232.0 1053.4 230.9 1056.4 230.5 1058.0C230.1 1059.6 229.5 1063.0 229.3 1065.0C229.1 1067.0 228.9 1072.9 228.8 1074.0"/>
<path class="c" d="M148.9 748.2C148.9 745.7 149.2 740.5 149.9 738.2C150.7 735.9 153.2 731.5 154.9 729.8C156.6 728.0 160.7 725.4 163.2 724.2C165.7 723.0 171.4 721.0 174.9 720.2C178.4 719.4 187.3 717.8 191.5 717.5C195.7 717.2 204.0 717.3 208.2 717.5C212.4 717.7 220.6 718.6 224.8 719.2C229.0 719.8 237.3 721.2 241.5 722.2C245.7 723.2 253.9 726.0 258.1 727.5C262.3 729.0 270.9 732.3 274.8 734.2C278.7 736.1 285.5 740.5 289.6 743.0C293.7 745.5 303.9 751.3 307.9 754.6C311.8 757.9 318.3 765.2 321.2 769.6C324.1 774.0 328.9 784.2 331.2 789.6C333.5 795.0 337.8 806.6 339.5 812.9C341.2 819.2 344.0 834.5 345.1 840.0C346.2 845.5 348.0 852.8 348.5 856.9C349.0 861.0 349.3 869.9 349.3 872.8C349.3 875.7 348.8 877.3 348.5 880.0C348.2 882.7 347.5 890.7 346.8 894.2C346.1 897.7 343.9 904.9 342.6 907.7C341.3 910.6 338.6 915.1 336.6 917.0C334.6 918.9 329.2 921.6 326.5 922.9C323.8 924.2 317.4 926.4 314.6 927.2C311.9 928.1 307.0 929.4 304.5 929.7C302.0 930.0 296.8 929.9 294.3 929.7C291.8 929.5 286.3 928.9 284.2 928.0C282.1 927.1 278.9 924.5 277.4 922.9C275.9 921.3 273.5 917.2 272.3 915.3C271.1 913.4 268.7 909.9 268.1 907.7C267.5 905.5 267.8 900.0 267.6 897.5C267.4 895.0 267.1 890.1 266.4 887.4C265.7 884.6 263.6 878.5 262.2 875.5C260.8 872.5 257.5 866.7 255.4 863.7C253.3 860.7 247.6 854.7 245.2 851.8C242.8 848.9 238.4 843.2 236.0 840.5C233.6 837.8 228.7 832.7 226.0 830.3C223.3 827.9 218.3 824.2 214.8 821.4C211.3 818.6 202.1 811.2 198.2 808.1C194.2 805.0 186.5 799.1 183.2 796.4C179.9 793.7 174.3 788.7 171.6 786.4C168.9 784.1 163.8 780.4 161.6 778.1C159.4 775.8 155.8 770.6 154.3 768.1C152.8 765.6 150.6 760.6 149.9 758.1C149.2 755.6 148.9 750.7 148.9 748.2Z"/>
<path class="c" stroke-dasharray="11.4 3.8" d="M279.1 898.8C279.6 897.9 281.9 893.4 283.0 892.0C284.1 890.6 285.4 889.1 287.9 887.8C290.4 886.5 298.5 883.0 302.9 881.8C307.3 880.6 317.5 879.1 322.9 878.5C328.3 877.9 340.7 877.2 346.2 876.8C351.7 876.4 362.2 875.7 366.9 875.5C371.6 875.3 379.7 875.4 383.9 875.5C388.1 875.6 396.6 876.1 400.8 876.4C405.0 876.7 413.5 877.1 417.7 877.6C421.9 878.1 430.6 879.6 434.6 880.3C438.6 881.0 446.8 882.4 450.0 883.0C453.2 883.6 457.7 884.6 460.2 885.5C462.7 886.4 467.8 888.2 470.3 889.8C472.8 891.4 478.1 895.9 480.5 898.2C482.9 900.5 487.9 905.8 489.8 908.4C491.7 911.0 494.4 916.8 495.7 919.4C497.0 922.0 499.2 927.1 499.9 929.6C500.6 932.1 501.4 937.0 501.6 939.7C501.8 942.5 501.8 948.8 501.6 951.6C501.4 954.4 500.6 958.4 499.9 961.8C499.2 965.2 497.1 975.1 495.7 978.8C494.3 982.5 490.8 988.4 488.9 991.5C487.0 994.6 483.0 1001.1 480.5 1003.3C478.0 1005.5 471.6 1007.9 468.6 1009.2C465.6 1010.5 460.4 1012.4 456.6 1013.8C452.8 1015.1 442.9 1018.6 438.0 1020.0C433.1 1021.4 421.7 1024.0 417.7 1024.8C413.7 1025.6 409.7 1026.3 405.9 1026.5C402.1 1026.7 391.6 1026.3 387.2 1026.0C382.8 1025.7 373.9 1024.4 370.3 1023.9C366.7 1023.4 361.6 1022.8 358.5 1022.2C355.4 1021.6 348.3 1020.1 345.1 1019.4C341.9 1018.7 335.4 1016.8 333.2 1016.3C331.0 1015.8 329.5 1015.6 327.3 1015.0C325.1 1014.4 317.7 1012.0 315.5 1011.2C313.3 1010.4 311.4 1009.5 309.6 1008.7C307.8 1007.9 303.1 1005.8 301.1 1004.5C299.1 1003.2 295.6 1000.3 293.5 998.6C291.4 996.9 285.8 992.6 284.2 990.9C282.6 989.2 282.0 987.0 280.8 985.0C279.6 983.0 276.0 976.9 274.9 974.9C273.8 972.9 272.9 971.3 272.3 968.9C271.7 966.5 270.2 958.1 269.8 955.4C269.4 952.6 269.4 949.2 269.3 946.9C269.2 944.6 269.2 938.7 269.3 936.8C269.4 934.9 269.6 933.5 269.8 931.4C270.0 929.2 270.4 921.7 270.6 919.6C270.8 917.5 270.4 917.1 271.5 914.5C272.6 911.9 278.2 900.8 279.1 898.8C280.1 896.8 278.6 899.6 279.1 898.8Z"/>
<path class="c" d="M266.4 1001.9C267.3 1001.3 272.0 997.9 274.0 996.9C276.0 995.9 280.2 993.9 282.5 993.5C284.8 993.1 289.9 993.3 292.6 993.5C295.4 993.7 301.3 994.7 304.5 995.2C307.7 995.7 314.6 997.0 318.0 997.7C321.4 998.4 327.6 999.9 331.6 1000.8C335.6 1001.6 346.0 1003.4 350.0 1004.5C354.0 1005.6 360.1 1008.6 363.5 1009.6C366.9 1010.6 373.5 1011.9 377.1 1012.4C380.7 1012.9 388.5 1013.6 392.3 1013.8C396.1 1014.0 403.7 1014.2 407.5 1014.1C411.3 1014.0 419.0 1013.7 422.8 1013.3C426.6 1012.9 434.4 1011.8 438.0 1011.2C441.6 1010.7 448.7 1009.4 451.6 1008.9C454.5 1008.4 458.8 1007.7 461.0 1007.5C463.2 1007.3 466.9 1006.9 469.0 1007.0C471.1 1007.1 475.7 1007.7 478.0 1008.0C480.3 1008.3 483.9 1009.0 487.2 1009.5C490.5 1010.0 500.0 1011.5 504.2 1012.3C508.4 1013.0 516.9 1014.7 521.1 1015.5C525.3 1016.3 533.6 1018.1 538.0 1019.0C542.4 1019.9 550.7 1021.6 556.0 1022.9C561.3 1024.2 574.3 1027.3 580.5 1029.0C586.7 1030.7 599.4 1034.7 605.7 1036.6C612.0 1038.5 624.7 1042.3 631.0 1044.2C637.3 1046.1 650.5 1050.0 656.2 1051.8C661.9 1053.6 671.6 1056.9 676.4 1058.6C681.2 1060.3 692.5 1064.4 694.8 1065.2"/>
<text class="b" x="6.3" y="24.3">A</text>
<text class="b" x="6.4" y="582.9">B</text>
<text class="t" text-anchor="middle" transform="translate(62.5 495.2) scale(1.000 1)">0.0</text>
<text class="t" text-anchor="middle" transform="translate(62.5 382.1) scale(1.000 1)">0.1</text>
<text class="t" text-anchor="middle" transform="translate(62.5 268.9) scale(1.000 1)">0.2</text>
<text class="t" text-anchor="middle" transform="translate(62.5 155.8) scale(1.000 1)">0.3</text>
<text class="t" text-anchor="middle" transform="translate(62.5 42.7) scale(1.000 1)">0.4</text>
<text class="t" text-anchor="middle" transform="translate(60.0 1083.4) scale(1.000 1)">0.0</text>
<text class="t" text-anchor="middle" transform="translate(60.0 970.3) scale(1.000 1)">0.1</text>
<text class="t" text-anchor="middle" transform="translate(60.0 857.1) scale(1.000 1)">0.2</text>
<text class="t" text-anchor="middle" transform="translate(60.0 744.0) scale(1.000 1)">0.3</text>
<text class="t" text-anchor="middle" transform="translate(60.0 630.9) scale(1.000 1)">0.4</text>
<text class="t" text-anchor="middle" transform="translate(98.6 519.6) scale(1.000 1)">6.0</text>
<text class="t" text-anchor="middle" transform="translate(243.2 519.6) scale(1.000 1)">6.5</text>
<text class="t" text-anchor="middle" transform="translate(387.7 519.6) scale(1.000 1)">7.0</text>
<text class="t" text-anchor="middle" transform="translate(532.2 519.6) scale(1.000 1)">7.5</text>
<text class="t" text-anchor="middle" transform="translate(676.8 519.6) scale(1.000 1)">8.0</text>
<text class="t" text-anchor="middle" transform="translate(96.3 1107.4) scale(1.000 1)">6.0</text>
<text class="t" text-anchor="middle" transform="translate(245.3 1107.4) scale(1.000 1)">6.5</text>
<text class="t" text-anchor="middle" transform="translate(394.3 1107.4) scale(1.000 1)">7.0</text>
<text class="t" text-anchor="middle" transform="translate(543.3 1107.4) scale(1.000 1)">7.5</text>
<text class="t" text-anchor="middle" transform="translate(692.3 1107.4) scale(1.000 1)">8.0</text>
<text class="t" text-anchor="middle" transform="translate(412.0 545.8) scale(1.000 1)">Si apfu</text>
<text class="t" text-anchor="middle" transform="translate(417.9 1133.1) scale(1.000 1)">Si apfu</text>
<text class="t" text-anchor="middle" transform="translate(25.9 288.8) rotate(-90) scale(1.000 1)">Ti apfu</text>
<text class="t" text-anchor="middle" transform="translate(17.8 878.7) rotate(-90) scale(1.000 1)">Ti apfu</text>
<path class="rd" d="M476.4 84.8l4.9 5.3l-4.9 5.3l-4.9 -5.3z"/>
<text class="t" text-anchor="start" transform="translate(487.0 96.6) scale(1.000 1)">SY1</text>
<circle class="gr" cx="544.8" cy="90.1" r="5.1"/>
<text class="t" text-anchor="start" transform="translate(555.3 96.6) scale(1.000 1)">SY2</text>
<path class="or" d="M608.7 85.8l8.6 8.6M617.3 85.8l-8.6 8.6M613.0 85.5v9.2"/>
<text class="t" text-anchor="start" transform="translate(623.5 96.6) scale(1.000 1)">SY3</text>
<rect class="bl" x="467.1" y="682.9" width="12.6" height="3.7" rx=".6"/>
<text class="t" text-anchor="start" transform="translate(483.5 692.0) scale(1.000 1)">SY4</text>
<path class="pk" d="M538.6 680.4l4.9 9.7h-9.8z"/>
<text class="t" text-anchor="start" transform="translate(549.2 692.0) scale(1.000 1)">SY5</text>
<rect class="gy" x="598.2" y="679.9" width="9.8" height="9.8"/>
<text class="t" text-anchor="start" transform="translate(613.6 692.0) scale(1.000 1)">SY6</text>
<text class="m" font-size="24.3" letter-spacing="-5.27" transform="translate(144.0 104.6) scale(0.870 1)">I</text>
<text class="m" font-size="24.3" letter-spacing="-5.27" transform="translate(248.8 196.8) scale(0.870 1)">II</text>
<text class="m" font-size="24.3" letter-spacing="-4.42" transform="translate(142.1 364.3) scale(0.620 1)">III</text>
<text class="r" text-anchor="middle" font-size="21.7" transform="translate(445.0 337.9) scale(1.000 1)" font-weight="500">Ⅳ</text>
<text text-anchor="middle" font-size="23" x="420.3" y="474.9">V</text>
<text class="m" font-size="24.3" letter-spacing="-5.27" transform="translate(143.1 692.9) scale(0.870 1)">I</text>
<text class="m" font-size="24.3" letter-spacing="-5.27" transform="translate(251.3 785.2) scale(0.870 1)">II</text>
<text class="m" font-size="24.3" letter-spacing="-4.42" transform="translate(152.2 932.7) scale(0.620 1)">III</text>
<text class="r" text-anchor="middle" font-size="22.6" transform="translate(449.4 922.5) scale(0.800 1)" font-weight="300">Ⅳ</text>
<text text-anchor="middle" font-size="22.6" x="432.5" y="1065.6">V</text>
</svg></body></html>
